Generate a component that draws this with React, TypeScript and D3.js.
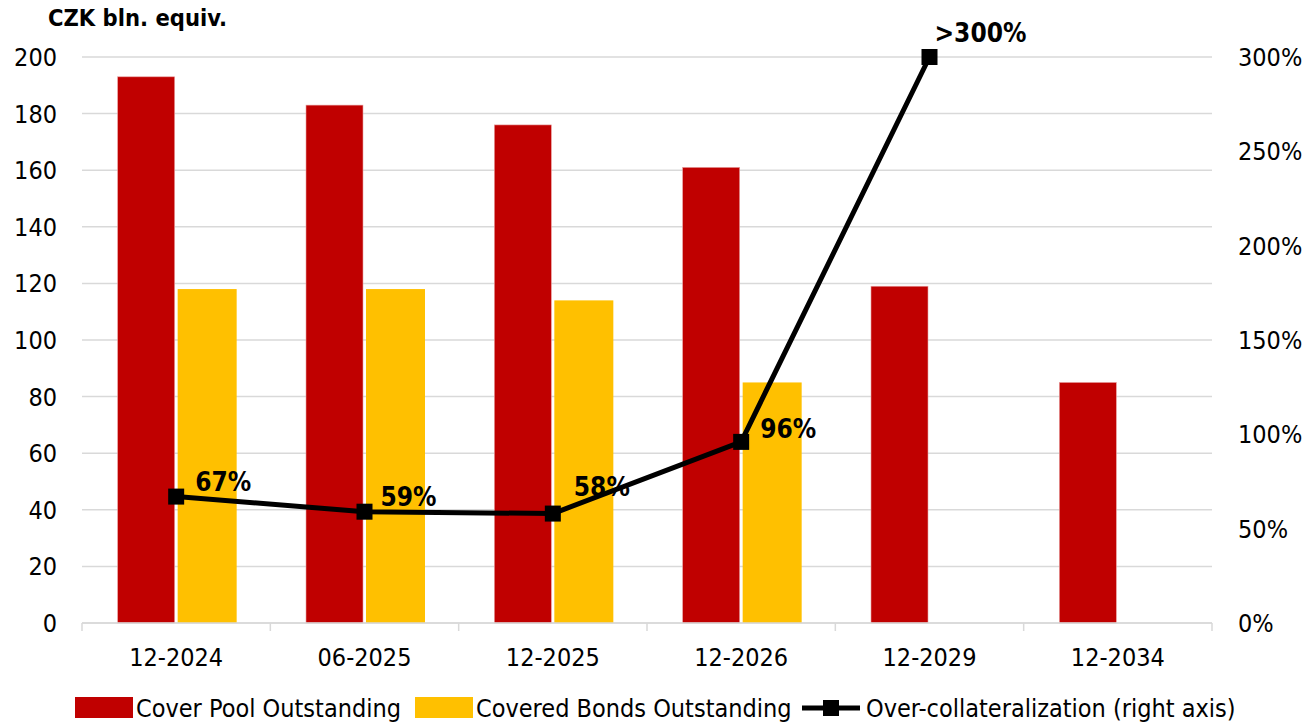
import * as d3 from "d3";

const categories = ["12-2024", "06-2025", "12-2025", "12-2026", "12-2029", "12-2034"];
const coverPool = [193, 183, 176, 161, 119, 85];
const coveredBonds: (number | null)[] = [118, 118, 114, 85, null, null];
const overCollat = [67, 59, 58, 96, 300];
const overLabels = ["67%", "59%", "58%", "96%", ">300%"];
const leftTicks = [0, 20, 40, 60, 80, 100, 120, 140, 160, 180, 200];
const rightTicks = [0, 50, 100, 150, 200, 250, 300];

const W = 1309;
const H = 723;
const M = { left: 82, right: 1212, top: 57, bottom: 623 };
const FONT = "'DejaVu Sans Condensed', 'DejaVu Sans', sans-serif";
const RED = "#c00000";
const GOLD = "#ffc000";

// label offsets relative to marker, tuned to the reference
const labelDx = [19, 16, 21, 19, 5];
const labelDy = [-6, -6, -18, -4, -15];

export default function App(): JSX.Element {
  const x = d3.scaleBand<string>().domain(categories).range([M.left, M.right]);
  const y = d3.scaleLinear().domain([0, 200]).range([M.bottom, M.top]);
  const yr = d3.scaleLinear().domain([0, 300]).range([M.bottom, M.top]);
  const barW = 57;
  const gap = 3;

  const line = d3
    .line<number>()
    .x((_d, i) => x(categories[i])! + x.bandwidth() / 2)
    .y((d) => yr(d));

  return (
    <svg width={W} height={H} style={{ position: "absolute", left: 0, top: 0, background: "#fff" }}>
      <text x={48} y={26} fontFamily={FONT} fontWeight="bold" fontSize={23.5} fill="#000">
        CZK bln. equiv.
      </text>
      {leftTicks.map((t) => (
        <g key={t}>
          <line x1={M.left} x2={M.right} y1={y(t)} y2={y(t)} stroke="#d9d9d9" strokeWidth={1.5} />
          <text x={57} y={y(t)} dy="0.36em" textAnchor="end" fontFamily={FONT} fontSize={25} fill="#000">
            {t}
          </text>
        </g>
      ))}
      {rightTicks.map((t) => (
        <text key={t} x={1238} y={yr(t)} dy="0.36em" fontFamily={FONT} fontSize={25} fill="#000">
          {t}%
        </text>
      ))}
      {categories.map((c, i) => {
        const cx = x(c)! + x.bandwidth() / 2;
        const b = coveredBonds[i];
        return (
          <g key={c}>
            <rect x={cx - gap / 2 - barW} y={y(coverPool[i])} width={barW} height={M.bottom - y(coverPool[i])} fill={RED} stroke="#e8a0a0" strokeWidth={0.6} />
            {b != null && (
              <rect x={cx + gap / 2} y={y(b)} width={barW + 2} height={M.bottom - y(b)} fill={GOLD} />
            )}
            <text x={cx} y={666} textAnchor="middle" fontFamily={FONT} fontSize={25} fill="#000">
              {c}
            </text>
          </g>
        );
      })}
      <line x1={M.left} x2={M.right} y1={M.bottom} y2={M.bottom} stroke="#d9d9d9" strokeWidth={1.5} />
      {d3.range(categories.length + 1).map((i) => {
        const tx = M.left + i * x.bandwidth();
        return <line key={i} x1={tx} x2={tx} y1={M.bottom} y2={M.bottom + 8} stroke="#d9d9d9" strokeWidth={1.5} />;
      })}
      <path d={line(overCollat) ?? ""} fill="none" stroke="#000" strokeWidth={5} strokeLinejoin="round" />
      {overCollat.map((v, i) => {
        const cx = x(categories[i])! + x.bandwidth() / 2;
        return (
          <g key={i}>
            <rect x={cx - 8} y={yr(v) - 8} width={16} height={16} fill="#000" />
            <text x={cx + labelDx[i]} y={yr(v) + labelDy[i]} fontFamily={FONT} fontWeight="bold" fontSize={26} fill="#000">
              {overLabels[i]}
            </text>
          </g>
        );
      })}
      <g fontFamily={FONT} fontSize={25} fill="#000">
        <rect x={75} y={697} width={58} height={21} fill={RED} />
        <text x={136} y={717}>Cover Pool Outstanding</text>
        <rect x={415} y={697} width={58} height={21} fill={GOLD} />
        <text x={476} y={717}>Covered Bonds Outstanding</text>
        <line x1={802} x2={860} y1={708} y2={708} stroke="#000" strokeWidth={5} />
        <rect x={823} y={700} width={16} height={16} fill="#000" />
        <text x={866} y={717}>Over-collateralization (right axis)</text>
      </g>
    </svg>
  );
}
